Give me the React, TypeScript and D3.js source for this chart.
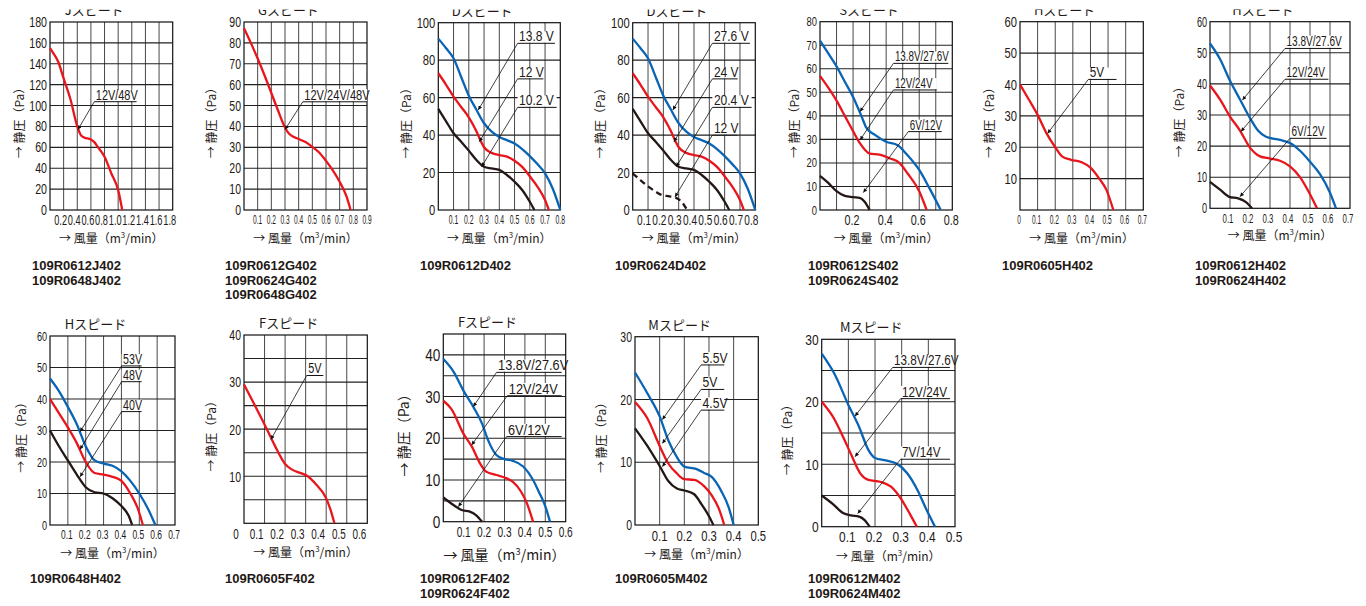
import React from 'react';
import * as d3 from 'd3';

type Pt = [number, number];
type Note = { text: string; x1: number; x2: number; y: number; tx: number; ty: number };

const RED = '#e8161c';
const BLUE = '#0a64b4';
const BLACK = '#231815';
const FS = "'Liberation Sans', Arial, Helvetica, sans-serif";
const CJK = "'Noto Sans CJK JP', 'Noto Sans', sans-serif";

// ---------- J speed ----------
const J_X_TICKS = [0.2, 0.4, 0.6, 0.8, 1.0, 1.2, 1.4, 1.6, 1.8];
const J_Y_TICKS = [0, 20, 40, 60, 80, 100, 120, 140, 160, 180];
const J_RED: Pt[] = [[0, 155], [0.05, 150], [0.12, 142], [0.2, 126], [0.3, 106], [0.4, 80], [0.45, 72], [0.5, 69.5], [0.6, 67.5], [0.65, 65], [0.7, 60.5], [0.8, 51], [0.9, 35], [1.0, 19], [1.06, 0]];
const J_NOTES: Note[] = [{ text: '12V/48V', x1: 0.65, x2: 1.27, y: 103.7, tx: 0.41, ty: 77 }];
const J_PARTS = ['109R0612J402', '109R0648J402'];

// ---------- G speed ----------
const G_X_TICKS = [0.1, 0.2, 0.3, 0.4, 0.5, 0.6, 0.7, 0.8, 0.9];
const G_Y_TICKS = [0, 10, 20, 30, 40, 50, 60, 70, 80, 90];
const G_RED: Pt[] = [[0, 87], [0.05, 80], [0.1, 72.5], [0.15, 64.5], [0.2, 56], [0.25, 47.5], [0.3, 39.5], [0.33, 36.5], [0.4, 34], [0.45, 32.5], [0.5, 30.2], [0.55, 27.5], [0.6, 23.5], [0.65, 19], [0.7, 13.5], [0.75, 6.5], [0.78, 0]];
const G_NOTES: Note[] = [{ text: '12V/24V/48V', x1: 0.43, x2: 0.9, y: 51.8, tx: 0.3, ty: 38.5 }];
const G_PARTS = ['109R0612G402', '109R0624G402', '109R0648G402'];

// ---------- D speed ----------
const D_X_TICKS = [0.1, 0.2, 0.3, 0.4, 0.5, 0.6, 0.7, 0.8];
const D_Y_TICKS = [0, 20, 40, 60, 80, 100];
const D_BLUE: Pt[] = [[0, 91.5], [0.05, 86.5], [0.1, 81], [0.15, 71], [0.2, 61], [0.25, 53.5], [0.3, 46.3], [0.35, 41.8], [0.4, 39], [0.45, 37.3], [0.5, 35.5], [0.55, 32.5], [0.6, 28.8], [0.65, 24.5], [0.7, 19.6], [0.75, 11.5], [0.8, 0]];
const D_RED: Pt[] = [[0, 73], [0.05, 67], [0.1, 60.5], [0.15, 55], [0.2, 49.5], [0.25, 42], [0.28, 36.5], [0.3, 33.5], [0.35, 30.5], [0.4, 29.3], [0.45, 28.5], [0.5, 26.3], [0.55, 23], [0.6, 18], [0.65, 12.5], [0.7, 5.3], [0.725, 0]];
const D_BLACK: Pt[] = [[0, 54], [0.05, 47.5], [0.1, 41], [0.15, 36.5], [0.2, 31.7], [0.25, 26.7], [0.3, 23.1], [0.35, 22.2], [0.4, 21.4], [0.45, 18.7], [0.5, 15.1], [0.55, 10.7], [0.6, 4.4], [0.63, 0]];
const D624_DASH: Pt[] = [[0, 19.5], [0.05, 16], [0.1, 12.6], [0.15, 9.8], [0.19, 8], [0.24, 7.3], [0.28, 6.6], [0.32, 4.3], [0.355, 0]];
const D612_NOTES: Note[] = [
  { text: '13.8 V', x1: 0.52, x2: 0.765, y: 89, tx: 0.262, ty: 53.4 },
  { text: '12 V', x1: 0.52, x2: 0.689, y: 70, tx: 0.269, ty: 36.5 },
  { text: '10.2 V', x1: 0.52, x2: 0.776, y: 54.8, tx: 0.284, ty: 23.1 },
];
const D624_NOTES: Note[] = [
  { text: '27.6 V', x1: 0.52, x2: 0.765, y: 89, tx: 0.262, ty: 53.4 },
  { text: '24 V', x1: 0.52, x2: 0.685, y: 70, tx: 0.269, ty: 36.5 },
  { text: '20.4 V', x1: 0.52, x2: 0.776, y: 54.8, tx: 0.284, ty: 23.1 },
  { text: '12 V', x1: 0.52, x2: 0.685, y: 40, tx: 0.276, ty: 7 },
];
const D612_PARTS = ['109R0612D402'];
const D624_PARTS = ['109R0624D402'];

// ---------- S speed ----------
const S_X_TICKS = [0.2, 0.4, 0.6, 0.8];
const S_Y_TICKS = [0, 10, 20, 30, 40, 50, 60, 70, 80];
const S_BLUE: Pt[] = [[0, 72], [0.05, 66.5], [0.1, 61], [0.15, 54.5], [0.2, 48], [0.25, 40], [0.28, 35], [0.33, 32], [0.4, 29], [0.47, 27.5], [0.52, 24], [0.6, 17], [0.66, 9.5], [0.73, 0]];
const S_RED: Pt[] = [[0, 57], [0.05, 52], [0.1, 46.5], [0.15, 40], [0.2, 33.5], [0.24, 28.5], [0.3, 24], [0.36, 23.5], [0.42, 22], [0.48, 20], [0.53, 15.5], [0.6, 8], [0.645, 0]];
const S_BLACK: Pt[] = [[0, 14.5], [0.05, 11.5], [0.1, 8], [0.15, 6], [0.2, 5.5], [0.24, 5.2], [0.27, 3.5], [0.3, 0]];
const S_NOTES: Note[] = [
  { text: '13.8V/27.6V', x1: 0.444, x2: 0.776, y: 62.3, tx: 0.242, ty: 41.8 },
  { text: '12V/24V', x1: 0.444, x2: 0.706, y: 51, tx: 0.242, ty: 29.7 },
  { text: '6V/12V', x1: 0.534, x2: 0.736, y: 33.3, tx: 0.262, ty: 7.4 },
];
const S_PARTS = ['109R0612S402', '109R0624S402'];

// ---------- H speed (0605) ----------
const H_X_TICKS0 = [0, 0.1, 0.2, 0.3, 0.4, 0.5, 0.6, 0.7];
const H_X_TICKS = [0.1, 0.2, 0.3, 0.4, 0.5, 0.6, 0.7];
const H_Y_TICKS0 = [10, 20, 30, 40, 50, 60];
const H_Y_TICKS = [0, 10, 20, 30, 40, 50, 60];
const H605_RED: Pt[] = [[0, 40], [0.05, 35.2], [0.1, 30.3], [0.15, 24.5], [0.2, 20], [0.24, 17], [0.29, 16], [0.35, 15.2], [0.4, 13.5], [0.45, 10], [0.49, 6.5], [0.53, 0]];
const H605_NOTES: Note[] = [{ text: '5V', x1: 0.388, x2: 0.548, y: 41.6, tx: 0.157, ty: 24.4 }];
const H605_PARTS = ['109R0605H402'];

// ---------- H speed (0612/0624) ----------
const H612_BLUE: Pt[] = [[0, 53], [0.05, 48], [0.1, 41], [0.15, 35], [0.2, 29], [0.24, 25], [0.28, 23], [0.35, 22], [0.4, 21], [0.45, 18.5], [0.5, 15], [0.55, 11], [0.6, 5], [0.63, 0]];
const H612_RED: Pt[] = [[0, 39.5], [0.05, 35], [0.1, 29.5], [0.15, 25], [0.2, 19.5], [0.25, 16.7], [0.3, 16], [0.35, 15.3], [0.4, 13.5], [0.45, 10], [0.5, 4.5], [0.535, 0]];
const H612_BLACK: Pt[] = [[0, 8.5], [0.05, 6], [0.1, 3.6], [0.14, 3.2], [0.18, 2], [0.21, 0]];
const H612_NOTES: Note[] = [
  { text: '13.8V/27.6V', x1: 0.375, x2: 0.658, y: 51.4, tx: 0.162, ty: 34.8 },
  { text: '12V/24V', x1: 0.375, x2: 0.592, y: 41.5, tx: 0.155, ty: 24.7 },
  { text: '6V/12V', x1: 0.4, x2: 0.583, y: 22.5, tx: 0.15, ty: 3.75 },
];
const H612_PARTS = ['109R0612H402', '109R0624H402'];

// ---------- H speed (0648) ----------
const H648_BLUE: Pt[] = [[0, 46.5], [0.05, 42.5], [0.1, 37.5], [0.15, 32], [0.2, 25], [0.25, 20.5], [0.3, 19.5], [0.35, 18.8], [0.4, 17], [0.45, 14], [0.5, 10], [0.55, 5], [0.59, 0]];
const H648_RED: Pt[] = [[0, 40], [0.05, 35.5], [0.1, 31], [0.15, 26], [0.2, 20], [0.25, 16.5], [0.3, 16], [0.35, 15.3], [0.4, 14], [0.45, 10], [0.49, 5.5], [0.52, 0]];
const H648_BLACK: Pt[] = [[0, 30], [0.05, 25], [0.1, 20.5], [0.15, 16], [0.2, 12], [0.25, 10.4], [0.3, 10], [0.35, 8.5], [0.4, 6], [0.44, 3], [0.46, 0]];
const H648_NOTES: Note[] = [
  { text: '53V', x1: 0.401, x2: 0.513, y: 50.5, tx: 0.168, ty: 29.6 },
  { text: '48V', x1: 0.401, x2: 0.513, y: 45.5, tx: 0.168, ty: 24 },
  { text: '40V', x1: 0.401, x2: 0.513, y: 36, tx: 0.168, ty: 15.3 },
];
const H648_PARTS = ['109R0648H402'];

// ---------- F speed ----------
const F_X_TICKS0 = [0, 0.1, 0.2, 0.3, 0.4, 0.5, 0.6];
const F_X_TICKS = [0.1, 0.2, 0.3, 0.4, 0.5, 0.6];
const F605_Y_TICKS = [10, 20, 30, 40];
const F612_Y_TICKS = [0, 10, 20, 30, 40];
const F605_RED: Pt[] = [[0, 29.5], [0.05, 25.3], [0.1, 21], [0.15, 16.5], [0.2, 12.6], [0.23, 11.5], [0.28, 10.6], [0.31, 10], [0.35, 8.3], [0.4, 5.3], [0.42, 3], [0.44, 0]];
const F605_NOTES: Note[] = [{ text: '5V', x1: 0.305, x2: 0.386, y: 31.4, tx: 0.131, ty: 17.8 }];
const F605_PARTS = ['109R0605F402'];
const F612_BLUE: Pt[] = [[0, 39], [0.05, 36], [0.1, 31.3], [0.15, 27.3], [0.19, 23.5], [0.22, 19.5], [0.26, 16], [0.3, 15], [0.34, 14.6], [0.39, 13.3], [0.44, 10], [0.47, 7], [0.5, 3.7], [0.523, 0]];
const F612_RED: Pt[] = [[0, 29], [0.04, 27], [0.1, 21], [0.14, 18], [0.18, 14], [0.21, 12], [0.26, 11.2], [0.3, 10.6], [0.34, 9.6], [0.38, 7.3], [0.41, 4.4], [0.44, 0]];
const F612_BLACK: Pt[] = [[0, 5.8], [0.05, 4], [0.09, 2.8], [0.13, 2.4], [0.16, 1.6], [0.19, 0]];
const F612_NOTES: Note[] = [
  { text: '13.8V/27.6V', x1: 0.261, x2: 0.58, y: 35.8, tx: 0.147, ty: 27.6 },
  { text: '12V/24V', x1: 0.314, x2: 0.58, y: 30.2, tx: 0.139, ty: 18.4 },
  { text: '6V/12V', x1: 0.31, x2: 0.58, y: 20.4, tx: 0.074, ty: 3.6 },
];
const F612_PARTS = ['109R0612F402', '109R0624F402'];

// ---------- M speed ----------
const M_X_TICKS = [0.1, 0.2, 0.3, 0.4, 0.5];
const M_Y_TICKS = [0, 10, 20, 30];
const M605_BLUE: Pt[] = [[0, 24.3], [0.05, 21], [0.1, 17.3], [0.135, 13.5], [0.17, 10.8], [0.2, 9.3], [0.25, 8.9], [0.28, 8.3], [0.31, 7.7], [0.35, 5.4], [0.38, 2.8], [0.4, 0]];
const M605_RED: Pt[] = [[0, 19.6], [0.05, 17], [0.1, 12.6], [0.135, 9.8], [0.17, 8.2], [0.2, 7.3], [0.24, 7.2], [0.28, 6.2], [0.31, 4.8], [0.34, 2.6], [0.362, 0]];
const M605_BLACK: Pt[] = [[0, 15.4], [0.05, 12.6], [0.1, 9.4], [0.135, 7], [0.17, 5.8], [0.2, 5.5], [0.24, 4.9], [0.27, 3.3], [0.3, 1.4], [0.318, 0]];
const M605_NOTES: Note[] = [
  { text: '5.5V', x1: 0.268, x2: 0.362, y: 25.5, tx: 0.111, ty: 16.8 },
  { text: '5V', x1: 0.268, x2: 0.362, y: 21.6, tx: 0.111, ty: 13 },
  { text: '4.5V', x1: 0.268, x2: 0.362, y: 18.3, tx: 0.111, ty: 9.3 },
];
const M605_PARTS = ['109R0605M402'];
const M612_BLUE: Pt[] = [[0, 27.7], [0.05, 24.3], [0.1, 19.5], [0.14, 16], [0.175, 12.3], [0.2, 11], [0.24, 10.6], [0.28, 10.1], [0.32, 8.6], [0.36, 5.8], [0.39, 3], [0.425, 0]];
const M612_RED: Pt[] = [[0, 20], [0.045, 17.4], [0.08, 14.4], [0.11, 11.6], [0.145, 8.5], [0.175, 7.5], [0.22, 7.2], [0.26, 6.4], [0.3, 4.3], [0.33, 2.1], [0.357, 0]];
const M612_BLACK: Pt[] = [[0, 5], [0.04, 3.7], [0.08, 2.2], [0.11, 1.8], [0.14, 1.6], [0.16, 1.1], [0.18, 0]];
const M612_NOTES: Note[] = [
  { text: '13.8V/27.6V', x1: 0.266, x2: 0.481, y: 25.5, tx: 0.125, ty: 17.7 },
  { text: '12V/24V', x1: 0.296, x2: 0.481, y: 20.5, tx: 0.125, ty: 11.2 },
  { text: '7V/14V', x1: 0.296, x2: 0.481, y: 10.8, tx: 0.135, ty: 2.1 },
];
const M612_PARTS = ['109R0612M402', '109R0624M402'];

// ---------- layout ----------
type Series = { data: Pt[]; color: string; dash?: boolean };
type PanelCfg = {
  title: string; parts: string[];
  l: number; r: number; t: number; b: number;
  xMax: number; yMax: number; xStep: number; yStep: number;
  xTicks: number[]; yTicks: number[];
  series: Series[]; notes: Note[];
  yt: [number, number]; xt: [number, number]; xdx: number;
  note: [number, number]; axis: number; ylabDx: number; xlabDy: number; partX: number; row: number;
};

const PANELS: PanelCfg[] = [
  { title: 'Jスピード', parts: J_PARTS, l: 50, r: 172.7, t: 22, b: 210, xMax: 1.8, yMax: 180, xStep: 0.2, yStep: 20, xTicks: J_X_TICKS, yTicks: J_Y_TICKS, series: [{ data: J_RED, color: RED }], notes: J_NOTES, yt: [14, 0.76], xt: [14, 0.66], xdx: -3, note: [14, 0.78], axis: 12, ylabDx: 32, xlabDy: 33, partX: 32, row: 0 },
  { title: 'Gスピード', parts: G_PARTS, l: 244, r: 367, t: 22, b: 210, xMax: 0.9, yMax: 90, xStep: 0.1, yStep: 10, xTicks: G_X_TICKS, yTicks: G_Y_TICKS, series: [{ data: G_RED, color: RED }], notes: G_NOTES, yt: [14, 0.75], xt: [12, 0.55], xdx: 0, note: [15, 0.74], axis: 12, ylabDx: 34, xlabDy: 33, partX: 225, row: 0 },
  { title: 'Dスピード', parts: D612_PARTS, l: 438.3, r: 560.3, t: 22.7, b: 210, xMax: 0.8, yMax: 100, xStep: 0.1, yStep: 20, xTicks: D_X_TICKS, yTicks: D_Y_TICKS, series: [{ data: D_BLUE, color: BLUE }, { data: D_RED, color: RED }, { data: D_BLACK, color: BLACK }], notes: D612_NOTES, yt: [14, 0.8], xt: [12.5, 0.55], xdx: 0, note: [14, 0.86], axis: 12, ylabDx: 33, xlabDy: 33, partX: 420, row: 0 },
  { title: 'Dスピード', parts: D624_PARTS, l: 632.7, r: 755.3, t: 22.7, b: 210, xMax: 0.8, yMax: 100, xStep: 0.1, yStep: 20, xTicks: D_X_TICKS, yTicks: D_Y_TICKS, series: [{ data: D_BLUE, color: BLUE }, { data: D_RED, color: RED }, { data: D_BLACK, color: BLACK }, { data: D624_DASH, color: BLACK, dash: true }], notes: D624_NOTES, yt: [14, 0.8], xt: [14, 0.72], xdx: -4, note: [14, 0.86], axis: 12, ylabDx: 33, xlabDy: 33, partX: 615, row: 0 },
  { title: 'Sスピード', parts: S_PARTS, l: 820, r: 952.3, t: 21.7, b: 210, xMax: 0.8, yMax: 80, xStep: 0.1, yStep: 10, xTicks: S_X_TICKS, yTicks: S_Y_TICKS, series: [{ data: S_BLUE, color: BLUE }, { data: S_RED, color: RED }, { data: S_BLACK, color: BLACK }], notes: S_NOTES, yt: [12.5, 0.75], xt: [14, 0.77], xdx: -1, note: [14, 0.7], axis: 12, ylabDx: 27, xlabDy: 33, partX: 808, row: 0 },
  { title: 'Hスピード', parts: H605_PARTS, l: 1020, r: 1143.3, t: 21.7, b: 210, xMax: 0.7, yMax: 60, xStep: 0.1, yStep: 10, xTicks: H_X_TICKS0, yTicks: H_Y_TICKS0, series: [{ data: H605_RED, color: RED }], notes: H605_NOTES, yt: [14, 0.8], xt: [12, 0.55], xdx: -1, note: [14, 0.84], axis: 12, ylabDx: 32, xlabDy: 33, partX: 1002, row: 0 },
  { title: 'Hスピード', parts: H612_PARTS, l: 1210, r: 1350, t: 21.7, b: 208.3, xMax: 0.7, yMax: 60, xStep: 0.1, yStep: 10, xTicks: H_X_TICKS, yTicks: H_Y_TICKS, series: [{ data: H612_BLUE, color: BLUE }, { data: H612_RED, color: RED }, { data: H612_BLACK, color: BLACK }], notes: H612_NOTES, yt: [14, 0.65], xt: [13, 0.6], xdx: -2, note: [15, 0.67], axis: 12, ylabDx: 32, xlabDy: 32, partX: 1195, row: 0 },
  { title: 'Hスピード', parts: H648_PARTS, l: 50, r: 175, t: 336, b: 525, xMax: 0.7, yMax: 60, xStep: 0.1, yStep: 10, xTicks: H_X_TICKS, yTicks: H_Y_TICKS, series: [{ data: H648_BLUE, color: BLUE }, { data: H648_RED, color: RED }, { data: H648_BLACK, color: BLACK }], notes: H648_NOTES, yt: [13, 0.7], xt: [13, 0.65], xdx: -1, note: [14, 0.76], axis: 12, ylabDx: 30, xlabDy: 33, partX: 30, row: 1 },
  { title: 'Fスピード', parts: F605_PARTS, l: 244, r: 367.3, t: 335, b: 523.3, xMax: 0.6, yMax: 40, xStep: 0.1, yStep: 5, xTicks: F_X_TICKS0, yTicks: F605_Y_TICKS, series: [{ data: F605_RED, color: RED }], notes: F605_NOTES, yt: [15, 0.7], xt: [15, 0.66], xdx: -8, note: [14, 0.78], axis: 12, ylabDx: 34, xlabDy: 34, partX: 225, row: 1 },
  { title: 'Fスピード', parts: F612_PARTS, l: 443.3, r: 565.7, t: 334, b: 521.7, xMax: 0.6, yMax: 45, xStep: 0.1, yStep: 5, xTicks: F_X_TICKS, yTicks: F612_Y_TICKS, series: [{ data: F612_BLUE, color: BLUE }, { data: F612_RED, color: RED }, { data: F612_BLACK, color: BLACK }], notes: F612_NOTES, yt: [17, 0.8], xt: [14.5, 0.7], xdx: 0, note: [15, 0.85], axis: 14, ylabDx: 40, xlabDy: 38, partX: 420, row: 1 },
  { title: 'Mスピード', parts: M605_PARTS, l: 635, r: 758.3, t: 336.7, b: 525, xMax: 0.5, yMax: 30, xStep: 0.1, yStep: 10, xTicks: M_X_TICKS, yTicks: M_Y_TICKS, series: [{ data: M605_BLUE, color: BLUE }, { data: M605_RED, color: RED }, { data: M605_BLACK, color: BLACK }], notes: M605_NOTES, yt: [14, 0.75], xt: [15, 0.75], xdx: 0, note: [15, 0.81], axis: 12, ylabDx: 35, xlabDy: 34, partX: 615, row: 1 },
  { title: 'Mスピード', parts: M612_PARTS, l: 821.7, r: 955, t: 339.3, b: 526.7, xMax: 0.5, yMax: 30, xStep: 0.1, yStep: 5, xTicks: M_X_TICKS, yTicks: M_Y_TICKS, series: [{ data: M612_BLUE, color: BLUE }, { data: M612_RED, color: RED }, { data: M612_BLACK, color: BLACK }], notes: M612_NOTES, yt: [15, 0.8], xt: [14, 0.85], xdx: -1, note: [15, 0.78], axis: 12, ylabDx: 35, xlabDy: 34, partX: 808, row: 1 },
];

const PART_Y = [270, 583];

function T(props: { x: number; y: number; size: number; sx?: number; anchor?: string; weight?: string; family?: string; children: React.ReactNode }) {
  const { x, y, size, sx = 1, anchor = 'start', weight = 'normal', family = FS, children } = props;
  return (
    <text transform={`translate(${x},${y}) scale(${sx},1)`} fontSize={size} textAnchor={anchor as any} fontWeight={weight} fontFamily={family} fill="#231815">
      {children}
    </text>
  );
}

const fmtX = (v: number) => (v === 0 ? '0' : d3.format('.1f')(v));
const fmtY = d3.format('d');

function Panel({ p }: { p: PanelCfg }) {
  const x = d3.scaleLinear().domain([0, p.xMax]).range([p.l, p.r]);
  const y = d3.scaleLinear().domain([0, p.yMax]).range([p.b, p.t]);
  const nx = Math.round(p.xMax / p.xStep);
  const ny = Math.round(p.yMax / p.yStep);
  const xg = d3.range(1, nx).map((i) => i * p.xStep);
  const yg = d3.range(1, ny).map((i) => i * p.yStep);
  const line = d3.line<Pt>().x((d) => x(d[0])).y((d) => y(d[1])).curve(d3.curveMonotoneX);
  const cx = (p.l + p.r) / 2;
  const cy = (p.t + p.b) / 2;
  const [ns, nsx] = p.note;
  return (
    <g>
      {/* title */}
      <g clipPath={p.row === 0 ? 'url(#topclip)' : undefined}>
        <text x={cx - 17} y={p.t - 7} fontSize={13} textAnchor="middle" fontFamily={CJK} fill="#231815">{p.title}</text>
      </g>
      {/* grid */}
      {xg.map((v) => (
        <line key={'x' + v} x1={x(v)} x2={x(v)} y1={p.t} y2={p.b} stroke="#333" strokeWidth={0.9} />
      ))}
      {yg.map((v) => (
        <line key={'y' + v} x1={p.l} x2={p.r} y1={y(v)} y2={y(v)} stroke="#222" strokeWidth={1.1} />
      ))}
      <rect x={p.l} y={p.t} width={p.r - p.l} height={p.b - p.t} fill="none" stroke="#111" strokeWidth={1.2} />
      {/* ticks */}
      {p.yTicks.map((v) => (
        <T key={'yt' + v} x={p.l - 3} y={y(v) + p.yt[0] * 0.36} size={p.yt[0]} sx={p.yt[1]} anchor="end">{fmtY(v)}</T>
      ))}
      {p.xTicks.map((v) => (
        <T key={'xt' + v} x={x(v) + p.xdx} y={p.b + p.xt[0] * 0.72 + 5} size={p.xt[0]} sx={p.xt[1]} anchor="middle">{fmtX(v)}</T>
      ))}
      {/* axis labels */}
      <g opacity={0.995}>
        <text transform={`translate(${p.l - p.ylabDx},${cy + 4}) rotate(-90)`} fontSize={p.axis} textAnchor="middle" dominantBaseline="central" fontFamily={CJK} fill="#231815">→ 静圧（Pa）</text>
      </g>
      <text x={cx} y={p.b + p.xlabDy} fontSize={p.axis} textAnchor="middle" fontFamily={CJK} fill="#231815">
        → 風量（m<tspan dy={-5} fontSize={p.axis * 0.65}>3</tspan><tspan dy={5}>/min）</tspan>
      </text>
      {/* curves */}
      {p.series.map((s, i) => (
        <path key={'s' + i} d={line(s.data) || ''} fill="none" stroke={s.color} strokeWidth={2.3} strokeDasharray={s.dash ? '6,4' : undefined} strokeLinejoin="round" />
      ))}
      {/* annotations */}
      {p.notes.map((n, i) => {
        const ux1 = x(n.x1), ux2 = x(n.x2), uy = y(n.y);
        return (
          <g key={'n' + i}>
            <line x1={ux1} y1={uy} x2={x(n.tx)} y2={y(n.ty)} stroke="#111" strokeWidth={0.8} markerEnd="url(#arr)" />
            <rect x={ux1} y={uy - ns * 0.85} width={ux2 - ux1} height={ns * 0.85 - 0.6} fill="#fff" />
            <T x={ux1 + 1.5} y={uy - 2} size={ns} sx={nsx}>{n.text}</T>
            <line x1={ux1} x2={ux2} y1={uy} y2={uy} stroke="#111" strokeWidth={1} />
          </g>
        );
      })}
      {/* part numbers */}
      {p.parts.map((s, i) => (
        <T key={'p' + i} x={p.partX} y={PART_Y[p.row] + i * 14.5} size={13} weight="bold">{s}</T>
      ))}
    </g>
  );
}

export default function App() {
  return (
    <svg width={1366} height={606} style={{ position: 'absolute', left: 0, top: 0, background: '#fff' }}>
      <defs>
        <clipPath id="topclip">
          <rect x={0} y={9.5} width={1366} height={40} />
        </clipPath>
        <marker id="arr" viewBox="0 0 10 10" refX={10} refY={5} markerWidth={7} markerHeight={4} orient="auto" markerUnits="userSpaceOnUse">
          <path d="M0,0 L10,5 L0,10 z" fill="#111" />
        </marker>
      </defs>
      <rect x={0} y={0} width={1366} height={606} fill="#fff" />
      {PANELS.map((p, i) => (
        <Panel key={i} p={p} />
      ))}
    </svg>
  );
}
